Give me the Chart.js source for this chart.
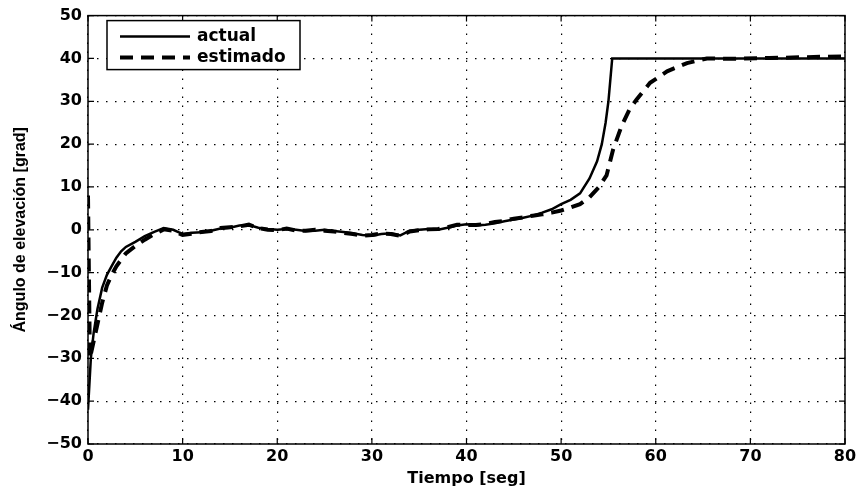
<!DOCTYPE html>
<html>
<head>
<meta charset="utf-8">
<script src="https://cdn.jsdelivr.net/npm/chart.js@4.4.0/dist/chart.umd.min.js"></script>
<style>
  html, body { margin: 0; padding: 0; background: #fff; }
  #wrap { width: 861px; height: 498px; }
</style>
</head>
<body>
<div id="wrap"><canvas id="chart" width="861" height="498"></canvas></div>
<script>
// time (s) and elevation angle (deg)
const actualT = [0, 0.3, 0.6, 1, 1.5, 2, 2.5, 3, 3.5, 4,
  5, 6, 7, 8, 9, 10, 11, 12, 13, 14, 15, 16, 17, 18, 19, 20, 21, 22, 23, 24, 25, 26, 27, 28,
  29, 30, 31, 32, 33, 34, 35, 36, 37, 38, 39, 40, 41, 42, 43, 44, 45, 46, 47, 48, 49, 50, 51, 52,
  53, 53.8, 54.3, 54.7, 55, 55.4, 60, 70, 80];
const actualV = [-42, -30, -24, -18.5, -13.5, -10.5, -8.5, -6.5, -5, -4,
  -2.8, -1.5, -0.5, 0.4, 0, -1, -0.7, -0.6, -0.2, 0.3, 0.5, 1.0, 1.1, 0.5, 0.2, 0, 0.2, 0, -0.3, -0.2, 0, -0.3, -0.5, -0.8,
  -1.2, -1.4, -1.0, -0.8, -1.3, -0.2, 0, 0.2, 0, 0.5, 1.0, 1.3, 1.0, 1.2, 1.5, 2.0, 2.4, 2.8, 3.3, 4.0, 4.8, 6.0, 7.0, 8.5,
  12, 16, 20, 25, 30, 40, 40, 40, 40];

const estT = [0, 0.2, 0.5, 1, 1.5, 2, 2.5, 3, 3.5, 4,
  5, 6, 7, 8, 9, 10, 11, 12, 13, 14, 15, 16, 17, 18, 19, 20, 21, 22, 23, 24, 25, 26, 27, 28,
  29, 30, 31, 32, 33, 34, 35, 36, 37, 38, 39, 40, 41, 42, 43, 44, 45, 46, 47, 48, 49, 50, 51, 52,
  53, 54, 54.8, 55.5, 56.4, 57.2, 58, 59.4, 61.2, 63.3, 65.4, 68, 72, 76, 80];
const estV = [8, -30, -27, -22, -17, -13, -10.5, -8.5, -7, -5.5,
  -3.8, -2.3, -1.0, 0.1, -0.2, -1.2, -0.9, -0.5, -0.3, 0.4, 0.6, 0.8, 1.2, 0.4, 0, -0.1, 0.3, -0.2, -0.2, 0, -0.2, -0.4, -0.7, -1.0,
  -1.4, -1.2, -0.9, -1.0, -1.4, -0.4, -0.1, 0.1, 0.2, 0.6, 1.2, 1.1, 1.1, 1.4, 1.8, 2.1, 2.6, 2.9, 3.3, 3.6, 4.0, 4.5, 5.2, 6.0,
  7.6, 10, 12.7, 18.8, 24.3, 28, 30.5, 34.3, 37, 38.9, 40, 39.9, 40.1, 40.3, 40.5];

const seriesNames = ['actual', 'estimado'];
const xLabel = 'Tiempo [seg]';
const yLabel = 'Ángulo de elevación [grad]';

const toPoints = (ts, vs) => ts.map((t, i) => ({ x: t, y: vs[i] }));
// matlab prints a real minus sign
const fmt = v => String(v).replace('-', '\u2212');

// box round the plot plus matlab style inward ticks on all sides
const frame = {
  id: 'frame',
  afterDraw(chart) {
    const { ctx, chartArea: a, scales } = chart;
    ctx.save();
    ctx.strokeStyle = '#000';
    ctx.lineWidth = 1.5;
    ctx.strokeRect(a.left, a.top, a.right - a.left, a.bottom - a.top);
    ctx.lineWidth = 1.2;
    ctx.beginPath();
    scales.x.ticks.forEach(t => {
      const px = scales.x.getPixelForValue(t.value);
      ctx.moveTo(px, a.bottom); ctx.lineTo(px, a.bottom - 6);
      ctx.moveTo(px, a.top); ctx.lineTo(px, a.top + 6);
    });
    scales.y.ticks.forEach(t => {
      const py = scales.y.getPixelForValue(t.value);
      ctx.moveTo(a.left, py); ctx.lineTo(a.left + 6, py);
      ctx.moveTo(a.right, py); ctx.lineTo(a.right - 6, py);
    });
    ctx.stroke();

    // legend box in the upper left corner
    const bx = a.left + 19, by = a.top + 5, bw = 193, bh = 49;
    ctx.fillStyle = '#fff';
    ctx.fillRect(bx, by, bw, bh);
    ctx.lineWidth = 1.5;
    ctx.strokeRect(bx, by, bw, bh);
    chart.data.datasets.forEach((ds, i) => {
      const ly = by + 16 + i * 21;
      ctx.beginPath();
      ctx.lineWidth = ds.borderWidth;
      ctx.setLineDash(ds.borderDash || []);
      ctx.moveTo(bx + 13, ly); ctx.lineTo(bx + 83, ly);
      ctx.stroke();
      ctx.setLineDash([]);
      ctx.fillStyle = '#000';
      ctx.font = 'bold 17px "DejaVu Sans"';
      ctx.textBaseline = 'middle';
      ctx.fillText(ds.label, bx + 90, ly);
    });
    ctx.restore();
  }
};

new Chart(document.getElementById('chart'), {
  type: 'line',
  data: {
    datasets: [
      {
        label: seriesNames[0],
        data: toPoints(actualT, actualV),
        borderColor: '#000',
        borderWidth: 2.5,
        pointRadius: 0,
        tension: 0
      },
      {
        label: seriesNames[1],
        data: toPoints(estT, estV),
        borderColor: '#000',
        borderWidth: 4,
        borderDash: [13, 8],
        pointRadius: 0,
        tension: 0
      }
    ]
  },
  options: {
    responsive: false,
    animation: false,
    layout: { padding: { top: 12, right: 16, left: 0, bottom: 0 } },
    plugins: { legend: { display: false }, tooltip: { enabled: false } },
    scales: {
      x: {
        type: 'linear',
        min: 0, max: 80,
        afterFit: s => { s.height = 54; },
        ticks: { stepSize: 10, color: '#000', padding: 3, callback: fmt,
          font: { family: 'DejaVu Sans', size: 16, weight: 'bold' } },
        grid: { color: '#000', lineWidth: 1.2, drawTicks: false },
        border: { display: false, dash: [1.5, 7.5] },
        title: { display: true, text: xLabel, color: '#000', padding: { top: 0, bottom: 10 },
          font: { family: 'DejaVu Sans', size: 16, weight: 'bold' } }
      },
      y: {
        min: -50, max: 50,
        afterFit: s => { s.width = 88; },
        ticks: { stepSize: 10, color: '#000', padding: 6, callback: fmt,
          font: { family: 'DejaVu Sans', size: 16, weight: 'bold' } },
        grid: { color: '#000', lineWidth: 1.2, drawTicks: false },
        border: { display: false, dash: [1.5, 7.5] },
        title: { display: true, text: yLabel, color: '#000', padding: { top: 11, bottom: 0 },
          font: { family: 'Liberation Sans', size: 16, weight: 'bold' } }
      }
    }
  },
  plugins: [frame]
});
</script>
</body>
</html>
